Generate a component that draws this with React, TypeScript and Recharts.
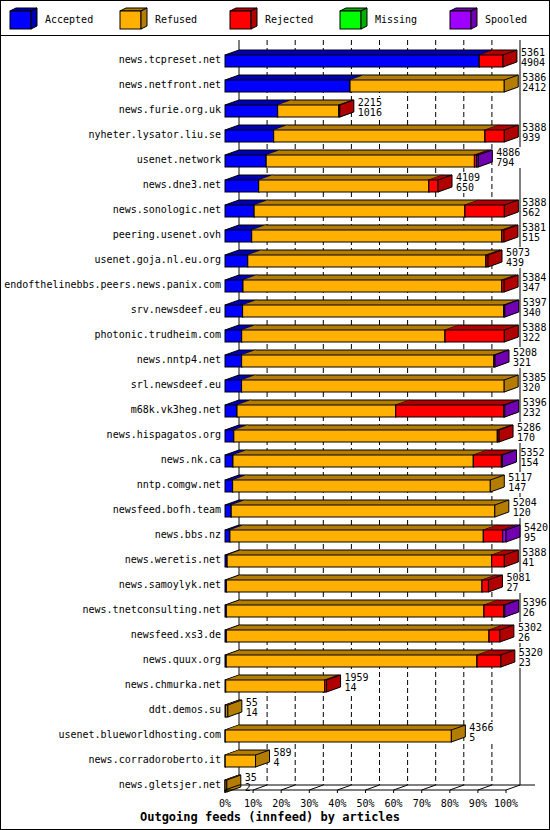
import React from 'react';
import { BarChart, Bar, XAxis, YAxis, CartesianGrid } from 'recharts';

const hosts = [
  'news.tcpreset.net',
  'news.netfront.net',
  'news.furie.org.uk',
  'nyheter.lysator.liu.se',
  'usenet.network',
  'news.dne3.net',
  'news.sonologic.net',
  'peering.usenet.ovh',
  'usenet.goja.nl.eu.org',
  'endofthelinebbs.peers.news.panix.com',
  'srv.newsdeef.eu',
  'photonic.trudheim.com',
  'news.nntp4.net',
  'srl.newsdeef.eu',
  'm68k.vk3heg.net',
  'news.hispagatos.org',
  'news.nk.ca',
  'nntp.comgw.net',
  'newsfeed.bofh.team',
  'news.bbs.nz',
  'news.weretis.net',
  'news.samoylyk.net',
  'news.tnetconsulting.net',
  'newsfeed.xs3.de',
  'news.quux.org',
  'news.chmurka.net',
  'ddt.demos.su',
  'usenet.blueworldhosting.com',
  'news.corradoroberto.it',
  'news.gletsjer.net',
];

// offered articles (upper number next to each bar)
const totals = [
  5361, 5386, 2215, 5388, 4886, 4109, 5388, 5381, 5073, 5384, 5397, 5388, 5208, 5385, 5396,
  5286, 5352, 5117, 5204, 5420, 5388, 5081, 5396, 5302, 5320, 1959, 55, 4366, 589, 35,
];
const accepted = [
  4904, 2412, 1016, 939, 794, 650, 562, 515, 439, 347, 340, 322, 321, 320, 232,
  170, 154, 147, 120, 95, 41, 27, 26, 26, 23, 14, 14, 5, 4, 2,
];
const refused = [
  0, 2974, 1180, 4076, 4017, 3281, 4066, 4824, 4595, 4992, 5037, 3922, 4867, 5065, 3061,
  5083, 4636, 4970, 5084, 4888, 5103, 4931, 4970, 5067, 4838, 1910, 41, 4361, 585, 33,
];
const rejected = [
  457, 0, 19, 373, 45, 178, 760, 42, 39, 45, 0, 1144, 0, 0, 2083,
  33, 541, 0, 0, 374, 244, 123, 380, 209, 459, 35, 0, 0, 0, 0,
];
const missing = [
  0, 0, 0, 0, 0, 0, 0, 0, 0, 0, 0, 0, 0, 0, 0,
  0, 0, 0, 0, 0, 0, 0, 0, 0, 0, 0, 0, 0, 0, 0,
];
const spooled = [
  0, 0, 0, 0, 30, 0, 0, 0, 0, 0, 20, 0, 20, 0, 20,
  0, 21, 0, 0, 63, 0, 0, 20, 0, 0, 0, 0, 0, 0, 0,
];

const pctLabels = ['0%', '10%', '20%', '30%', '40%', '50%', '60%', '70%', '80%', '90%', '100%'];

const seriesKeys = ['accepted', 'refused', 'rejected', 'missing', 'spooled'];
const seriesNames = ['Accepted', 'Refused', 'Rejected', 'Missing', 'Spooled'];
const frontColors = ['#0000ff', '#ffb000', '#ff0000', '#00ff00', '#a000ff'];
const darkColors = ['#0000b0', '#b47c00', '#b00000', '#00b000', '#7000b0'];

const maxTotal = Math.max(...totals);
const xTicks = pctLabels.map((_, i) => (maxTotal * i) / 10);

const data = hosts.map((host, i) => ({
  host,
  total: totals[i],
  accepted: accepted[i],
  refused: refused[i],
  rejected: rejected[i],
  missing: missing[i],
  spooled: spooled[i],
}));

const FONT = '"DejaVu Sans Mono", "Liberation Mono", monospace';
const W = 550;
const H = 830;
const MARGIN = { top: 35, right: 30, bottom: 0, left: 10 };
const Y_AXIS_W = 229;
const PLOT_W = W - MARGIN.left - Y_AXIS_W - MARGIN.right;
const STEP = PLOT_W / (pctLabels.length - 1);
const DX = 14; // depth of the 3d effect
const DY = 5;
const SHIFT = 13; // back plane -> front plane
const CHAR_W = 6;

function makeBox(k: number) {
  const key = seriesKeys[k];
  return (props: any) => {
    const { x, y, width, height, payload } = props;
    if (!payload || !(payload[key] > 0)) return <g />;
    const fx = x - DX;
    const fy = y + SHIFT;
    const w = Math.max(width, 0);
    const h = height;
    const top = `${fx},${fy} ${fx + w},${fy} ${fx + w + DX},${fy - DY} ${fx + DX},${fy - DY}`;
    const side = `${fx + w},${fy} ${fx + w + DX},${fy - DY} ${fx + w + DX},${fy + h - DY} ${fx + w},${fy + h}`;
    const isFirst = seriesKeys.slice(0, k).every((s) => !(payload[s] > 0));
    const isLast = seriesKeys.slice(k + 1).every((s) => !(payload[s] > 0));
    const tx = fx + w + DX + 4;
    const chars = Math.max(String(payload.total).length, String(payload.accepted).length);
    return (
      <g>
        <polygon points={top} fill={darkColors[k]} stroke="none" />
        <line x1={fx + DX} y1={fy - DY} x2={fx + w + DX} y2={fy - DY} stroke="#000" />
        {isFirst && <line x1={fx} y1={fy} x2={fx + DX} y2={fy - DY} stroke="#000" />}
        <rect x={fx} y={fy} width={w} height={h} fill={frontColors[k]} stroke="#000" strokeWidth={1} />
        <polygon points={side} fill={darkColors[k]} stroke="#000" strokeWidth={1} />
        {isLast && (
          <g>
            <rect x={tx + 0.5} y={fy - 8} width={chars * CHAR_W + 1} height={21} fill="#fff" />
            <text x={tx} fontFamily={FONT} fontSize={10} fill="#000">
              <tspan x={tx} y={fy + 1}>{payload.total}</tspan>
              <tspan x={tx} y={fy + 10.5}>{payload.accepted}</tspan>
            </text>
          </g>
        )}
      </g>
    );
  };
}

function HostTick(props: any) {
  const { x, y, payload } = props;
  return (
    <text x={x} y={y + 15} textAnchor="end" fontFamily={FONT} fontSize={10} fill="#000">
      {payload.value}
    </text>
  );
}

function FloorTick(props: any) {
  const { x, y, index } = props;
  const fx = x - DX;
  const fy = y + DY;
  const last = index === pctLabels.length - 1;
  return (
    <g>
      <line x1={fx} y1={fy} x2={x} y2={y} stroke="#000" />
      {!last && <line x1={fx} y1={fy} x2={fx + STEP} y2={fy} stroke="#000" />}
      {last && <line x1={x} y1={y} x2={x + 15} y2={y} stroke="#000" />}
      <line x1={fx} y1={fy} x2={fx} y2={fy + 3} stroke="#000" />
      <text x={fx} y={fy + 16.5} textAnchor="middle" fontFamily={FONT} fontSize={10} fill="#000">
        {pctLabels[index]}
      </text>
    </g>
  );
}

function WallLine(props: any) {
  const { x1, y1, x2, y2, index } = props;
  const edge = index === 0 || index === pctLabels.length - 1;
  return (
    <line
      x1={x1}
      y1={y1 + 5}
      x2={x2}
      y2={y2}
      stroke="#000"
      strokeDasharray={edge ? undefined : '5 3'}
    />
  );
}

function LegendBox() {
  return (
    <g>
      {seriesNames.map((name, i) => {
        const gx = 10 + 110 * i;
        return (
          <g key={name}>
            <polygon
              points={`${gx},11 ${gx + 21},11 ${gx + 27},8 ${gx + 6},8`}
              fill={darkColors[i]}
              stroke="#000"
            />
            <rect x={gx} y={11} width={21} height={18} fill={frontColors[i]} stroke="#000" />
            <polygon
              points={`${gx + 21},11 ${gx + 27},8 ${gx + 27},26 ${gx + 21},29`}
              fill={darkColors[i]}
              stroke="#000"
            />
            <text x={gx + 35} y={23} fontFamily={FONT} fontSize={10} fill="#000">
              {name}
            </text>
          </g>
        );
      })}
    </g>
  );
}

export default function App() {
  return (
    <div style={{ position: 'absolute', left: 0, top: 0, width: W, height: H, background: '#fff' }}>
      <BarChart width={W} height={H} data={data} layout="vertical" margin={MARGIN}>
        <CartesianGrid xAxisId="back" horizontal={false} vertical={WallLine} />
        <XAxis
          xAxisId="back"
          type="number"
          domain={[0, maxTotal]}
          ticks={xTicks}
          height={45}
          tickSize={0}
          tickMargin={0}
          tickLine={false}
          axisLine={{ stroke: '#000' }}
          tick={FloorTick}
          interval={0}
        />
        <YAxis
          type="category"
          dataKey="host"
          width={Y_AXIS_W}
          tickSize={0}
          tickMargin={18}
          tickLine={false}
          axisLine={false}
          tick={HostTick}
          interval={0}
        />
        {seriesKeys.map((key, k) => (
          <Bar
            key={key}
            dataKey={key}
            name={seriesNames[k]}
            stackId="feeds"
            xAxisId="back"
            barSize={12}
            fill={frontColors[k]}
            shape={makeBox(k)}
            isAnimationActive={false}
          />
        ))}
      </BarChart>
      <svg width={W} height={H} style={{ position: 'absolute', left: 0, top: 0, pointerEvents: 'none' }}>
        <rect x={0.5} y={0.5} width={W - 1} height={H - 1} fill="none" stroke="#000" />
        <line x1={0} y1={35.5} x2={W} y2={35.5} stroke="#000" />
        <LegendBox />
        <text x={270} y={820.5} textAnchor="middle" fontFamily={FONT} fontSize={12} fontWeight="bold" fill="#000">
          Outgoing feeds (innfeed) by articles
        </text>
      </svg>
    </div>
  );
}
